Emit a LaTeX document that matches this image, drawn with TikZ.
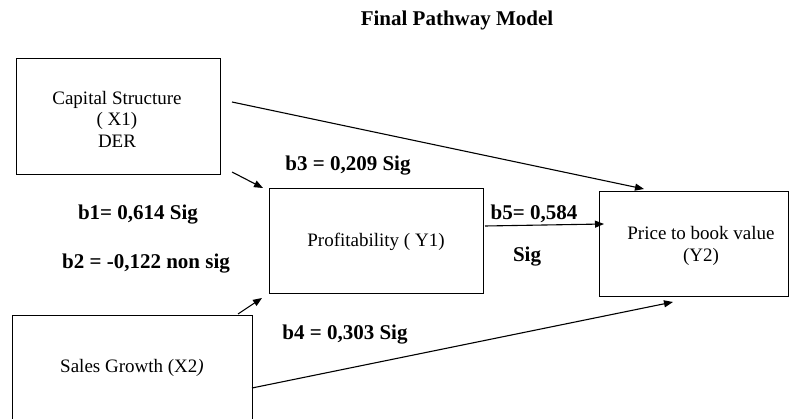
\documentclass[tikz,border=0pt]{standalone}
\usepackage{fontspec}
\setmainfont{Liberation Serif}
\usetikzlibrary{arrows.meta}
\begin{document}
\begin{tikzpicture}[x=1pt,y=-1pt,
  box/.style={draw,line width=1pt},
  txt/.style={inner sep=0pt,font=\fontsize{19}{21.5}\selectfont,align=center},
  lbl/.style={inner sep=0pt,font=\fontsize{21}{24}\selectfont\bfseries},
  arr/.style={line width=1.1pt,-{Triangle[length=9pt,width=7pt]}}]
\clip (0,0) rectangle (789,419);
\fill[white] (0,0) rectangle (789,419);
% boxes
\draw[box] (16,59) rectangle (220,175);
\draw[box] (269,189) rectangle (483,294);
\draw[box] (599,192) rectangle (788,297);
\draw[box] (12,316) rectangle (252,440);
% box texts
\node[txt] (tx1) at (117,119) {Capital Structure\\( X1)\\DER};
\node[txt] (ty1) at (376,242) {Profitability ( Y1)};
\node[txt] (ty2) at (701,246) {Price to book value\\(Y2)};
\node[txt] (tx2) at (132,368) {Sales Growth (X2\textit{)}};
% title
\node[lbl] (title) at (457,20) {Final Pathway Model};
% arrows
\coordinate (a1s) at (232,102);
\coordinate (a1e) at (644,189);
\coordinate (a2s) at (232,172);
\coordinate (a2e) at (263,188);
\coordinate (a3s) at (238,314);
\coordinate (a3e) at (262,298);
\coordinate (a4s) at (252,388);
\coordinate (a4e) at (673,302);
\coordinate (a5s) at (485,226);
\coordinate (a5e) at (604,224);
\draw[arr] (a1s) -- (a1e);
\draw[arr] (a2s) -- (a2e);
\draw[arr] (a3s) -- (a3e);
\draw[arr] (a4s) -- (a4e);
\draw[arr] (a5s) -- (a5e);
% labels
\node[lbl] (b1) at (138,215) {b1= 0,614 Sig};
\node[lbl] (b2) at (146,264) {b2 = -0,122 non sig};
\node[lbl] (b3) at (348,166) {b3 = 0,209 Sig};
\node[lbl] (b4) at (345,335) {b4 = 0,303 Sig};
\node[lbl] (b5) at (534,214) {b5= 0,584};
\node[lbl] (sig) at (527,257) {Sig};
\end{tikzpicture}
\end{document}
